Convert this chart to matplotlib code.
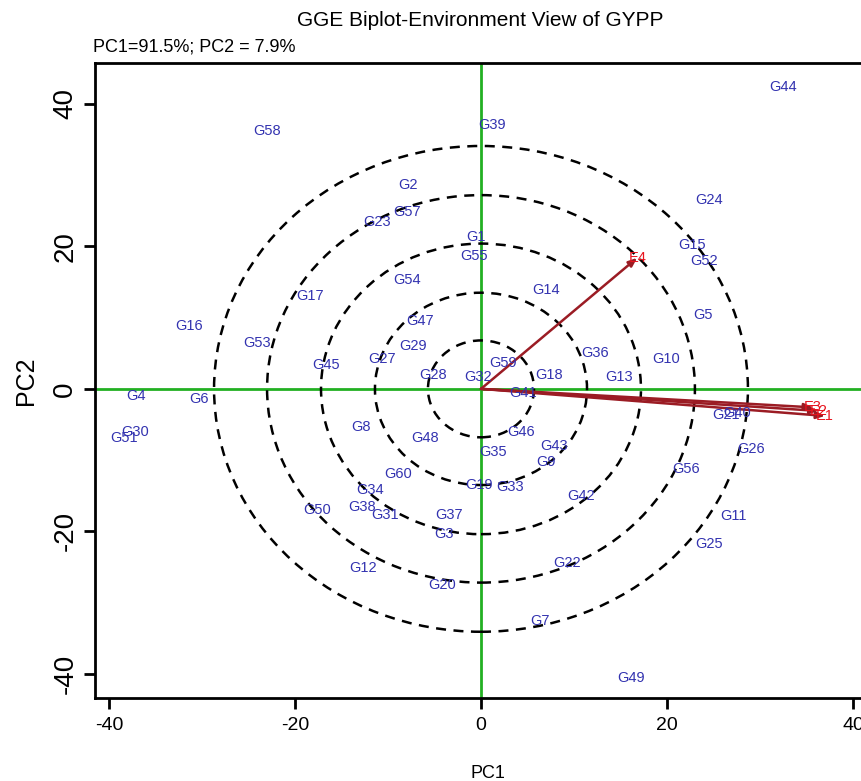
import matplotlib
matplotlib.use("Agg")
import matplotlib.pyplot as plt
from matplotlib.patches import Ellipse

plt.rcParams['font.family'] = ['Liberation Sans', 'DejaVu Sans']
plt.rcParams['axes.unicode_minus'] = False

# ---------------- data ----------------
genotypes = ['G44', 'G39', 'G58', 'G2', 'G57', 'G23', 'G24', 'G1', 'G55', 'G15',
             'G52', 'G54', 'G17', 'G14', 'G16', 'G5', 'G47', 'G53', 'G29', 'G36',
             'G10', 'G27', 'G45', 'G59', 'G28', 'G32', 'G18', 'G13', 'G4', 'G6',
             'G41', 'G21', 'G40', 'G30', 'G51', 'G8', 'G48', 'G46', 'G26', 'G43',
             'G35', 'G9', 'G56', 'G60', 'G19', 'G33', 'G34', 'G42', 'G38', 'G50',
             'G31', 'G37', 'G11', 'G3', 'G25', 'G12', 'G22', 'G20', 'G7', 'G49']
pc1 = [32.5, 1.2, -23.0, -7.9, -8.0, -11.2, 24.5, -0.5, -0.7, 22.7,
       24.0, -8.0, -18.4, 7.0, -31.4, 23.9, -6.6, -24.1, -7.3, 12.3,
       19.9, -10.6, -16.7, 2.4, -5.2, -0.3, 7.3, 14.8, -37.1, -30.3,
       4.5, 26.3, 27.5, -37.2, -38.4, -12.9, -6.0, 4.3, 29.0, 7.9,
       1.3, 7.0, 22.1, -8.9, -0.2, 3.1, -11.9, 10.8, -12.8, -17.6,
       -10.3, -3.4, 27.1, -4.0, 24.5, -12.7, 9.3, -4.2, 6.3, 16.1]
pc2 = [42.4, 37.1, 36.2, 28.6, 24.8, 23.4, 26.5, 21.3, 18.7, 20.2,
       18.0, 15.3, 13.1, 13.9, 8.8, 10.4, 9.5, 6.5, 6.0, 5.1,
       4.2, 4.2, 3.4, 3.6, 2.0, 1.7, 2.0, 1.7, -1.0, -1.4,
       -0.6, -3.6, -3.4, -6.0, -6.9, -5.3, -6.9, -6.0, -8.4, -8.0,
       -8.8, -10.2, -11.2, -11.9, -13.5, -13.8, -14.2, -15.0, -16.6, -17.0,
       -17.7, -17.7, -17.8, -20.4, -21.8, -25.1, -24.4, -27.5, -32.6, -40.6]

environments = ['E1', 'E2', 'E3', 'E4']
env_pc1 = [37.0, 36.3, 35.7, 16.8]
env_pc2 = [-3.8, -3.1, -2.6, 18.4]

ring_rx = [5.7, 11.4, 17.2, 23.0, 28.7]
ring_ry = [6.8, 13.5, 20.4, 27.2, 34.1]

xticks = [-40, -20, 0, 20, 40]
yticks = [-40, -20, 0, 20, 40]

title = "GGE Biplot-Environment View of GYPP"
subtitle = "PC1=91.5%; PC2 = 7.9%"

# ---------------- figure ----------------
W, H = 861, 781
fig = plt.figure(figsize=(W / 100, H / 100), dpi=100)
ax_l, ax_r, ax_t, ax_b = 95, 880, 63, 698
ax = fig.add_axes([ax_l / W, 1 - ax_b / H, (ax_r - ax_l) / W, (ax_b - ax_t) / H])
ax.set_xlim(-41.5, 42.9)
ax.set_ylim(-43.4, 45.75)

green = '#22b022'
ax.axhline(0, color=green, lw=2.0, zorder=1)
ax.axvline(0, color=green, lw=2.0, zorder=1)

for rx, ry in zip(ring_rx, ring_ry):
    ax.add_patch(Ellipse((0, 0), 2 * rx, 2 * ry, fill=False, ec='black',
                         lw=1.8, ls=(0, (4, 3)), zorder=2))

arrow_col = '#9b1c24'
for name, x, y in zip(environments, env_pc1, env_pc2):
    ax.annotate('', xy=(x, y), xytext=(0, 0),
                arrowprops=dict(arrowstyle='-|>,head_length=0.5,head_width=0.2',
                                color=arrow_col, lw=1.8, shrinkA=0, shrinkB=0),
                zorder=3)
    ax.text(x, y, name, color='#e8141e', fontsize=10.5, ha='center', va='center',
            zorder=4)

for name, x, y in zip(genotypes, pc1, pc2):
    ax.text(x, y, name, color='#3333b0', fontsize=10.5, ha='center', va='center',
            zorder=5)

ax.set_xticks(xticks)
ax.set_yticks(yticks)
ax.tick_params(axis='x', length=8, width=2, labelsize=14, pad=6)
ax.tick_params(axis='y', length=8, width=2, labelsize=20, pad=4)
for lab in ax.get_yticklabels():
    lab.set_rotation(90)
    lab.set_va('center')
for s in ['left', 'bottom', 'top', 'right']:
    ax.spines[s].set_linewidth(2)

ax.set_xlabel('PC1', fontsize=13, labelpad=22)
ax.set_ylabel('PC2', fontsize=18, labelpad=10)

fig.text(480 / W, 1 - 20 / H, title, fontsize=15, ha='center', va='center')
fig.text(93 / W, 1 - 47 / H, subtitle, fontsize=13, ha='left', va='center')

fig.savefig('out.png', dpi=100)
